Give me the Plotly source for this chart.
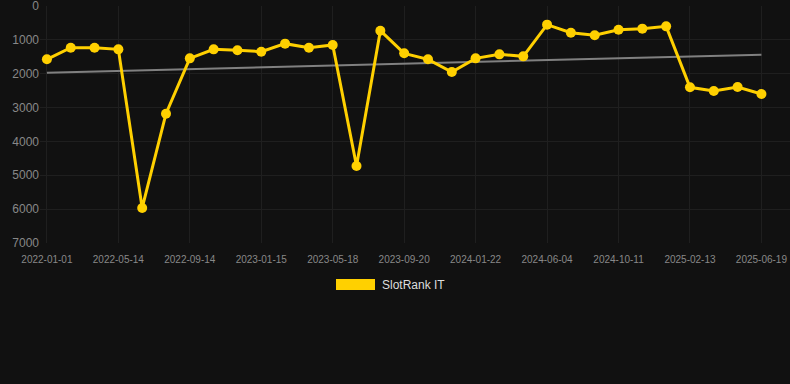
import plotly.graph_objects as go

dates = [
    "2022-01-01", "2022-02-14", "2022-03-30", "2022-05-14", "2022-06-24",
    "2022-08-04", "2022-09-14", "2022-10-25", "2022-12-05", "2023-01-15",
    "2023-02-25", "2023-04-07", "2023-05-18", "2023-06-29", "2023-08-09",
    "2023-09-20", "2023-10-31", "2023-12-11", "2024-01-22", "2024-03-06",
    "2024-04-20", "2024-06-04", "2024-07-17", "2024-08-29", "2024-10-11",
    "2024-11-23", "2025-01-01", "2025-02-13", "2025-03-28", "2025-05-08",
    "2025-06-19",
]
rank = [
    1575, 1231, 1231, 1280, 5966, 3180, 1546, 1280, 1309, 1349,
    1112, 1231, 1152, 4726, 729, 1398, 1575, 1949, 1546, 1428,
    1487, 551, 788, 866, 699, 669, 601, 2402, 2511, 2392, 2599,
]
trend_x = [dates[0], dates[-1]]
trend_y = [1969, 1437]
tick_labels = dates[::3]
y_ticks = [0, 1000, 2000, 3000, 4000, 5000, 6000, 7000]
series_name = "SlotRank IT"

YELLOW = "#FFD000"
BG = "#111111"
GRID = "#1f1f1f"

PLOT_L, PLOT_B, PLOT_W, PLOT_H = 40, 243, 750, 237

fig = go.Figure()
fig.add_trace(go.Scatter(
    x=trend_x, y=trend_y, mode="lines",
    line=dict(color="#808080", width=2),
    showlegend=False, hoverinfo="skip",
))
fig.add_trace(go.Scatter(
    x=dates, y=rank, mode="lines+markers", name=series_name,
    line=dict(color=YELLOW, width=3),
    marker=dict(color=YELLOW, size=10),
    showlegend=False,
))

fig.update_layout(
    width=790, height=384,
    paper_bgcolor=BG, plot_bgcolor=BG,
    margin=dict(l=40, r=0, t=6, b=141),
    font=dict(family="Liberation Sans, Arial, sans-serif", color="#888888"),
    xaxis=dict(
        type="category", categoryorder="array", categoryarray=dates,
        range=[-0.29, 31.2],
        tickmode="array", tickvals=tick_labels, ticktext=tick_labels,
        tickfont=dict(size=10, color="#888888"),
        showgrid=True, gridcolor=GRID, gridwidth=1,
        zeroline=False, showline=False, ticks="",
        ticklabelstandoff=9, ticklabeloverflow="allow",
    ),
    yaxis=dict(
        range=[7000, 0], tickvals=y_ticks,
        tickfont=dict(size=12, color="#888888"),
        showgrid=True, gridcolor=GRID, gridwidth=1,
        zeroline=False, showline=False, ticks="",
        ticklabeloverflow="allow",
    ),
    shapes=[dict(
        type="rect", xref="paper", yref="paper",
        x0=(336 - PLOT_L) / PLOT_W, x1=(375 - PLOT_L) / PLOT_W,
        y0=(PLOT_B - 290) / PLOT_H, y1=(PLOT_B - 279) / PLOT_H,
        fillcolor=YELLOW, line=dict(width=0),
    )],
    annotations=[dict(
        text=series_name, xref="paper", yref="paper",
        x=(380 - PLOT_L) / PLOT_W, y=(PLOT_B - 285) / PLOT_H,
        xanchor="left", yanchor="middle", showarrow=False,
        font=dict(size=12, color="#dddddd"),
    )],
)

fig.write_html(
    "out.html",
    config={"displayModeBar": False},
    post_script="document.body.style.margin='0';document.body.style.background='#111111';",
)
